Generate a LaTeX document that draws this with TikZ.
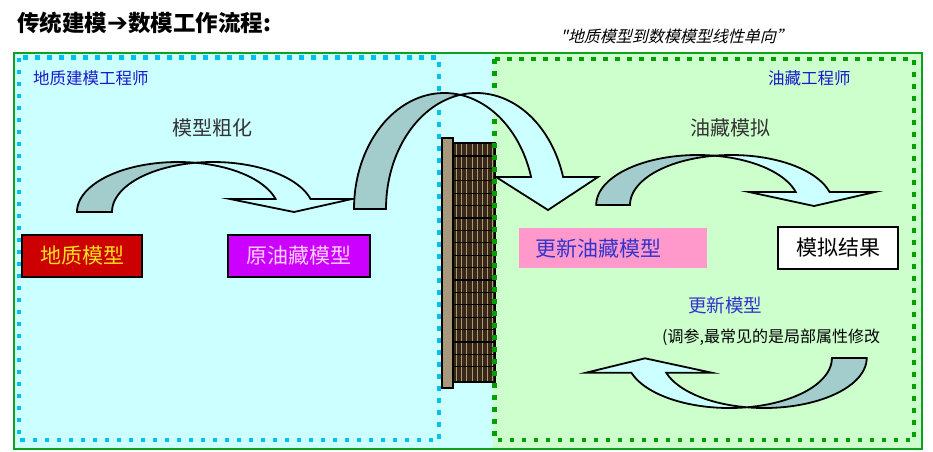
\documentclass[tikz,border=0pt]{standalone}
\usepackage{fontspec}
\setmainfont{Liberation Sans}
\newfontfamily\cjk{Noto Sans CJK SC}
\newfontfamily\cjkit{Noto Sans CJK SC}[FakeSlant=0.25]
\newfontfamily\dejavu{DejaVu Sans}
\definecolor{bgcyan}{HTML}{CCFFFF}
\definecolor{bggreen}{HTML}{CCFFCC}
\definecolor{dotcyan}{HTML}{00C0F0}
\definecolor{dotgreen}{HTML}{00A000}
\definecolor{bordergreen}{HTML}{10A020}
\definecolor{arrowdark}{HTML}{A3CCCC}
\definecolor{arrowlight}{HTML}{CCFFFF}
\definecolor{labelblue}{HTML}{1A1ACC}
\definecolor{textblue}{HTML}{3333CC}
\definecolor{darkred}{HTML}{CC0000}
\definecolor{violetbox}{HTML}{CC00FF}
\definecolor{pinkbox}{HTML}{FF99CC}
\definecolor{boxyellow}{HTML}{FFE020}
\definecolor{lightpink}{HTML}{FFD0FF}
\definecolor{walltan}{HTML}{A8987C}
\definecolor{wallbrown}{HTML}{3A2816}
\definecolor{darktext}{HTML}{333333}
\tikzset{
  blockarrow/.style={draw=black, line width=1.8pt, line join=miter},
  arrowback/.style={blockarrow, fill=arrowdark},
  arrowfront/.style={blockarrow, fill=arrowlight},
  rolelabel/.style={inner sep=0pt, anchor=west, text=labelblue, font=\cjk\fontsize{16.5}{18}\selectfont},
  steplabel/.style={inner sep=0pt, text=darktext, font=\cjk\fontsize{20}{22}\selectfont},
  modelbox/.style={draw=black, line width=2pt, inner sep=0pt, minimum height=42pt, font=\cjk\fontsize{21}{23}\selectfont},
  dotframe/.style={line width=4.6pt, dash pattern=on 4.6pt off 7.4pt},
}
\begin{document}
\begin{tikzpicture}[x=1pt,y=-1pt]
\useasboundingbox (0,0) rectangle (933,451);
\fill[white] (0,0) rectangle (933,451);
% backgrounds
\fill[bgcyan] (14,53) rectangle (493,449);
\fill[bggreen] (493,53) rectangle (922,449);
\draw[bordergreen, line width=2.2pt] (14,53) rectangle (922,449);
% wall
\fill[wallbrown] (453,143) rectangle (495,382);
\foreach \i in {0,...,7} \draw[walltan, line width=1.1pt] ({456.5+\i*5.2},143) -- ({456.5+\i*5.2},382);
\foreach \j in {0,...,17} \draw[black, line width=1.3pt] (453,{156+\j*12.4}) -- (495,{156+\j*12.4});
\draw[black, line width=1.5pt] (453,143) rectangle (495,382);
\draw[black, fill=walltan, line width=1.8pt] (442,138) rectangle (453,388);
% dotted frames
\draw[dotcyan, dotframe] (19,57.5) rectangle (439,440);
\draw[dotgreen, dotframe] (494.5,59) rectangle (914,440);
% arrow 1 (coarsening)
\draw[arrowback] plot[domain=180:279.98, samples=40, variable=\t] ({178+101*cos(\t)},{212+50*sin(\t)})
  -- plot[domain=260.02:180, samples=40, variable=\t] ({213+101*cos(\t)},{212+50*sin(\t)}) -- cycle;
\draw[arrowfront] plot[domain=260.02:344.93, samples=40, variable=\t] ({213+101*cos(\t)},{212+50*sin(\t)})
  -- (352,199) -- (294,212) -- (230,199)
  -- plot[domain=344.93:279.98, samples=40, variable=\t] ({178+101*cos(\t)},{212+50*sin(\t)}) -- cycle;
% arrow 2 (big arch)
\draw[arrowback] plot[domain=180:280.21, samples=50, variable=\t] ({444.3+90.3*cos(\t)},{209+116*sin(\t)})
  -- plot[domain=259.79:180, samples=50, variable=\t] ({476.3+90.3*cos(\t)},{209+116*sin(\t)}) -- cycle;
\draw[arrowfront] plot[domain=259.79:343.99, samples=50, variable=\t] ({476.3+90.3*cos(\t)},{209+116*sin(\t)})
  -- (598,177) -- (548,210) -- (496,177)
  -- plot[domain=343.99:280.21, samples=50, variable=\t] ({444.3+90.3*cos(\t)},{209+116*sin(\t)}) -- cycle;
% arrow 3 (simulation)
\draw[arrowback] plot[domain=180:280.42, samples=40, variable=\t] ({697.7+101.5*cos(\t)},{205+50*sin(\t)})
  -- plot[domain=259.58:180, samples=40, variable=\t] ({731.5+101.5*cos(\t)},{205+50*sin(\t)}) -- cycle;
\draw[arrowfront] plot[domain=259.58:344.93, samples=40, variable=\t] ({731.5+101.5*cos(\t)},{205+50*sin(\t)})
  -- (875,192) -- (814,206) -- (749,192)
  -- plot[domain=344.93:280.42, samples=40, variable=\t] ({697.7+101.5*cos(\t)},{205+50*sin(\t)}) -- cycle;
% arrow 4 (update, back to left)
\draw[arrowback] plot[domain=0:99.78, samples=40, variable=\t] ({764.2+102.5*cos(\t)},{358+50*sin(\t)})
  -- plot[domain=80.22:0, samples=40, variable=\t] ({729.4+102.5*cos(\t)},{358+50*sin(\t)}) -- cycle;
\draw[arrowfront] plot[domain=80.22:162.9, samples=40, variable=\t] ({729.4+102.5*cos(\t)},{358+50*sin(\t)})
  -- (586,372.7) -- (645,358.3) -- (711.7,372.7)
  -- plot[domain=162.9:99.78, samples=40, variable=\t] ({764.2+102.5*cos(\t)},{358+50*sin(\t)}) -- cycle;
% boxes
\node[modelbox, fill=darkred, text=boxyellow, minimum width=120pt] (geo) at (82,256) {地质模型};
\node[modelbox, fill=violetbox, text=lightpink, minimum width=142pt] (orig) at (299,256) {原油藏模型};
\node[inner xsep=16pt, inner ysep=0pt, text width=156pt, align=left, minimum height=40pt, fill=pinkbox, text=textblue, font=\cjk\fontsize{21}{23}\selectfont] (upd) at (613,248) {更新油藏模型};
\node[modelbox, fill=white, text=black, minimum width=120pt] (sim) at (838,248) {模拟结果};
% texts
\node[inner sep=0pt, anchor=west, font=\cjk\bfseries\fontsize{22.5}{24}\selectfont] (title) at (17,23) {传统建模{\dejavu\bfseries\fontsize{25}{24}\selectfont ➔}数模工作流程:};
\node[inner sep=0pt, font=\cjkit\fontsize{16}{18}\selectfont] (sub) at (676,36.5) {"地质模型到数模模型线性单向”};
\node[rolelabel] (geoeng) at (33,78) {地质建模工程师};
\node[rolelabel] (reseng) at (768,78) {油藏工程师};
\node[steplabel] (coarse) at (212.5,128) {模型粗化};
\node[steplabel] (simlab) at (730.5,128) {油藏模拟};
\node[inner sep=0pt, text=textblue, font=\cjk\fontsize{18.5}{20}\selectfont] (updlab) at (725,305) {更新模型};
\node[inner sep=0pt, anchor=west, text=black, font=\cjk\fontsize{16}{18}\selectfont] (note) at (662,337) {(调参,最常见的是局部属性修改};
\end{tikzpicture}
\end{document}
